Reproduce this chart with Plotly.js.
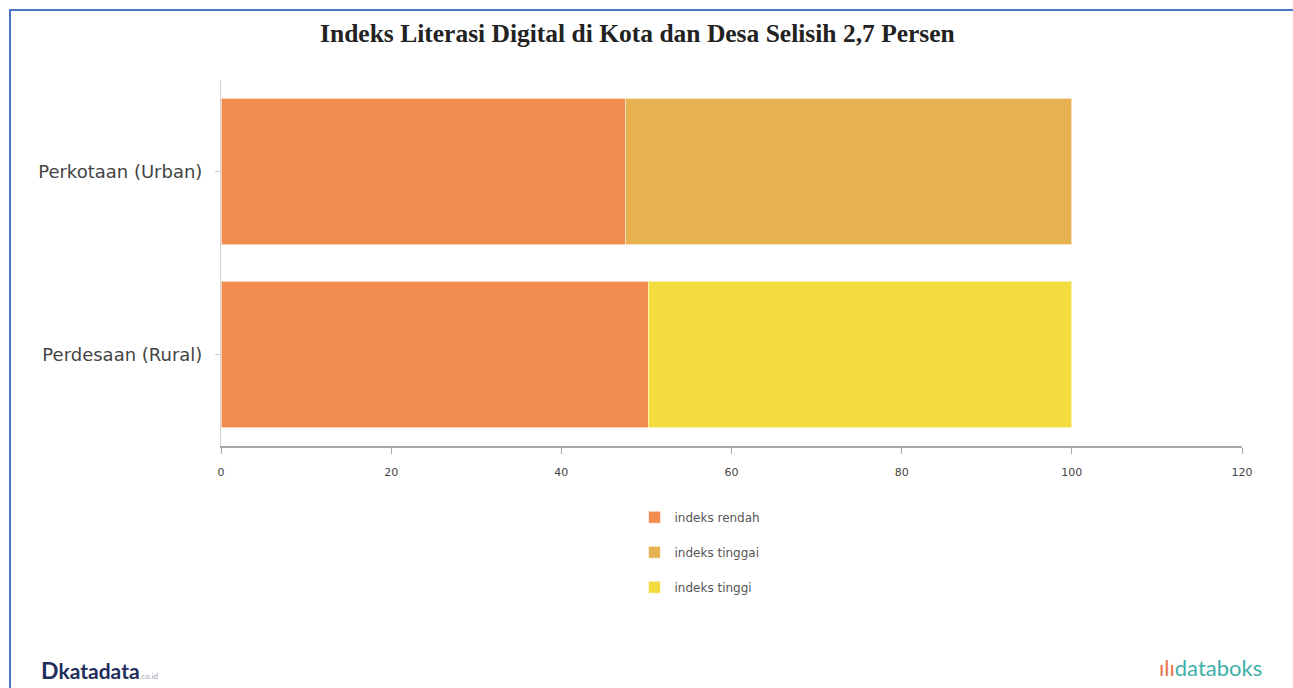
<!DOCTYPE html>
<html>
<head>
<meta charset="utf-8">
<script src="https://cdn.plot.ly/plotly-3.0.1.min.js"></script>
<style>
html,body{margin:0;padding:0;background:#fff;}
#wrap{position:relative;width:1293px;height:688px;overflow:hidden;}
#chart{width:1293px;height:688px;}
#btop{position:absolute;left:9px;top:9px;width:1284px;height:2px;background:#4a76c6;}
#bleft{position:absolute;left:9px;top:9px;width:2px;height:679px;background:#4a76c6;}
</style>
</head>
<body>
<div id="wrap">
<div id="chart"></div>
<div id="btop"></div>
<div id="bleft"></div>
</div>
<script>
const categories = ["Perkotaan (Urban)", "Perdesaan (Rural)"];
const seriesNames = ["indeks rendah", "indeks tinggai", "indeks tinggi"];
const indeksRendah = [47.5, 50.2];
const indeksTinggai = [52.5, null];
const indeksTinggi = [null, 49.8];
const xTicks = [0, 20, 40, 60, 80, 100, 120];
const chartTitle = "Indeks Literasi Digital di Kota dan Desa Selisih 2,7 Persen";

const colors = ["#F38D4F", "#E7B352", "#F4DB3E"];
const values = [indeksRendah, indeksTinggai, indeksTinggi];

const traces = values.map((v, i) => ({
  type: "bar",
  orientation: "h",
  name: seriesNames[i],
  y: categories,
  x: v,
  marker: {color: colors[i], line: {color: "rgba(255,255,255,0.6)", width: 1}},
  legendgroup: "g" + i,
  hoverinfo: "x+name"
}));

const layout = {
  width: 1293, height: 688,
  margin: {l: 221, r: 51, t: 80, b: 242},
  paper_bgcolor: "#fff", plot_bgcolor: "#fff",
  barmode: "stack",
  bargap: 0.2,
  title: {
    text: "<b>" + chartTitle + "</b>",
    font: {family: "Liberation Serif, serif", size: 25.5, color: "#222"},
    x: 0.493, xanchor: "center", y: 0.952, yanchor: "middle"
  },
  xaxis: {
    range: [0, 120],
    tickvals: xTicks,
    ticktext: xTicks.map(String),
    showgrid: false, zeroline: false,
    showline: true, linecolor: "#a8a8a8", linewidth: 2,
    ticks: "outside", ticklen: 6, tickcolor: "#a8a8a8", tickwidth: 1,
    ticklabelstandoff: 9,
    tickfont: {family: "DejaVu Sans, sans-serif", size: 11, color: "#444"},
    fixedrange: true
  },
  yaxis: {
    categoryorder: "array",
    categoryarray: categories.slice().reverse(),
    showgrid: false, zeroline: false,
    showline: true, linecolor: "#d4d4d4", linewidth: 1,
    ticks: "outside", ticklen: 5, tickcolor: "#cfcfcf", tickwidth: 1,
    ticklabelstandoff: 9,
    tickfont: {family: "DejaVu Sans, sans-serif", size: 18, color: "#444"},
    fixedrange: true
  },
  showlegend: true,
  legend: {
    orientation: "v",
    x: 0.405, xanchor: "left",
    y: -0.155, yanchor: "top",
    traceorder: "grouped",
    tracegroupgap: 16,
    font: {family: "DejaVu Sans, sans-serif", size: 12, color: "#555"},
    bgcolor: "rgba(0,0,0,0)"
  },
  annotations: [
    {xref: "paper", yref: "paper", x: -0.178, y: -0.612, xanchor: "left", yanchor: "middle",
     text: "<b><span style='font-size:23px'>D</span>katadata</b><span style='font-size:8px;color:#9aa3b5'>.co.id</span>", showarrow: false,
     font: {family: "Lato, sans-serif", size: 21, color: "#1d2d5c"}},
    {xref: "paper", yref: "paper", x: 1.022, y: -0.605, xanchor: "right", yanchor: "middle",
     text: "<span style='color:#e9744f'>ılı</span>databoks", showarrow: false,
     font: {family: "Lato, sans-serif", size: 22, color: "#3fb0a8"}}
  ]
};

Plotly.newPlot("chart", traces, layout, {displayModeBar: false, staticPlot: true});
</script>
</body>
</html>
